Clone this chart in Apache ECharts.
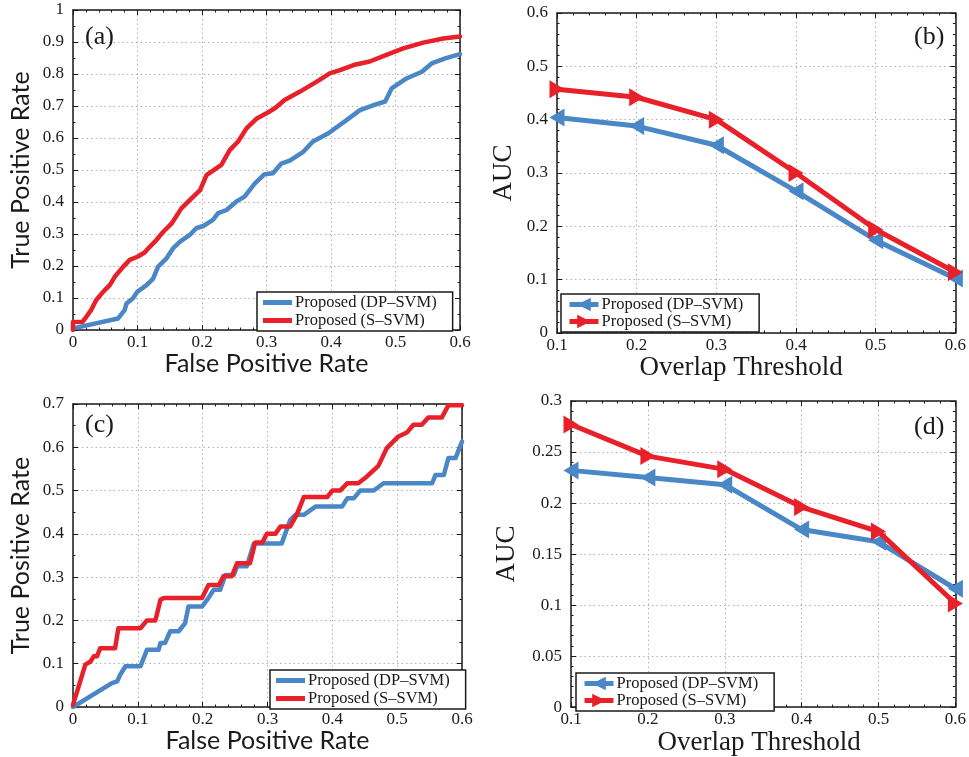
<!DOCTYPE html>
<html>
<head>
<meta charset="utf-8">
<script src="https://cdn.jsdelivr.net/npm/echarts@6/dist/echarts.min.js"></script>
<style>
  html, body { margin: 0; padding: 0; background: #fff; }
  #chart { width: 969px; height: 757px; }
</style>
</head>
<body>
<div id="chart"></div>
<script>
// ---- Data ----------------------------------------------------------------
const seriesLabels = ['Proposed (DP–SVM)', 'Proposed (S–SVM)'];

// (a) ROC curves: [false positive rate, true positive rate]
const rocA_dp = [
  [0, 0.005], [0.07, 0.036], [0.08, 0.062], [0.083, 0.083], [0.093, 0.099],
  [0.10, 0.12], [0.114, 0.14], [0.124, 0.16], [0.132, 0.198], [0.145, 0.224],
  [0.155, 0.255], [0.166, 0.276], [0.181, 0.297], [0.191, 0.318], [0.202, 0.325],
  [0.217, 0.344], [0.225, 0.365], [0.238, 0.375], [0.253, 0.401], [0.266, 0.417],
  [0.282, 0.458], [0.297, 0.487], [0.31, 0.49], [0.323, 0.52], [0.336, 0.529],
  [0.357, 0.557], [0.372, 0.589], [0.396, 0.615], [0.424, 0.656], [0.445, 0.687],
  [0.466, 0.703], [0.484, 0.714], [0.494, 0.755], [0.517, 0.786], [0.541, 0.807],
  [0.556, 0.833], [0.577, 0.849], [0.6, 0.862]
];
const rocA_s = [
  [0, 0], [0, 0.025], [0.015, 0.026], [0.021, 0.042], [0.028, 0.062],
  [0.036, 0.094], [0.047, 0.12], [0.057, 0.14], [0.065, 0.167], [0.078, 0.198],
  [0.088, 0.219], [0.10, 0.229], [0.111, 0.242], [0.119, 0.26], [0.127, 0.276],
  [0.14, 0.307], [0.153, 0.333], [0.168, 0.38], [0.181, 0.406], [0.197, 0.437],
  [0.207, 0.484], [0.23, 0.516], [0.243, 0.562], [0.256, 0.589], [0.269, 0.63],
  [0.285, 0.661], [0.3, 0.677], [0.313, 0.693], [0.328, 0.719], [0.352, 0.745],
  [0.378, 0.776], [0.398, 0.802], [0.414, 0.812], [0.435, 0.828], [0.46, 0.839],
  [0.486, 0.86], [0.512, 0.88], [0.543, 0.898], [0.574, 0.911], [0.6, 0.917]
];

// (b) AUC against overlap threshold
const thresholds = [0.1, 0.2, 0.3, 0.4, 0.5, 0.6];
const aucB_dp = [0.404, 0.388, 0.352, 0.266, 0.174, 0.102];
const aucB_s  = [0.457, 0.442, 0.400, 0.300, 0.194, 0.114];

// (c) ROC curves
const rocC_dp = [
  [0, 0], [0.06, 0.055], [0.068, 0.059], [0.073, 0.075], [0.081, 0.094],
  [0.104, 0.094], [0.114, 0.132], [0.132, 0.132], [0.135, 0.148], [0.142, 0.148],
  [0.15, 0.175], [0.163, 0.175], [0.173, 0.194], [0.178, 0.232], [0.199, 0.232],
  [0.209, 0.252], [0.217, 0.271], [0.227, 0.271], [0.235, 0.305], [0.248, 0.305],
  [0.253, 0.325], [0.268, 0.325], [0.279, 0.378], [0.322, 0.378], [0.335, 0.432],
  [0.343, 0.444], [0.356, 0.444], [0.374, 0.463], [0.415, 0.463], [0.423, 0.482],
  [0.433, 0.482], [0.443, 0.5], [0.464, 0.5], [0.479, 0.517], [0.554, 0.517],
  [0.559, 0.536], [0.572, 0.536], [0.579, 0.575], [0.59, 0.575], [0.6, 0.613]
];
const rocC_s = [
  [0, 0.005], [0.019, 0.098], [0.027, 0.105], [0.032, 0.117], [0.037, 0.117],
  [0.042, 0.136], [0.065, 0.136], [0.07, 0.182], [0.104, 0.182], [0.114, 0.2],
  [0.127, 0.2], [0.135, 0.248], [0.14, 0.252], [0.199, 0.252], [0.209, 0.282],
  [0.225, 0.282], [0.232, 0.302], [0.245, 0.302], [0.253, 0.332], [0.273, 0.332],
  [0.281, 0.38], [0.292, 0.38], [0.299, 0.4], [0.312, 0.4], [0.32, 0.417],
  [0.335, 0.417], [0.345, 0.444], [0.356, 0.485], [0.392, 0.485], [0.4, 0.5],
  [0.412, 0.5], [0.423, 0.517], [0.44, 0.517], [0.453, 0.532], [0.471, 0.557],
  [0.484, 0.598], [0.502, 0.625], [0.515, 0.634], [0.525, 0.652], [0.538, 0.652],
  [0.548, 0.669], [0.569, 0.669], [0.579, 0.697], [0.6, 0.697]
];

// (d) AUC against overlap threshold
const aucD_dp = [0.232, 0.225, 0.218, 0.174, 0.162, 0.116];
const aucD_s  = [0.277, 0.246, 0.233, 0.196, 0.172, 0.1015];

// Tick values for each axis
const rocXTicks  = [0, 0.1, 0.2, 0.3, 0.4, 0.5, 0.6];
const rocAYTicks = [0, 0.1, 0.2, 0.3, 0.4, 0.5, 0.6, 0.7, 0.8, 0.9, 1];
const rocCYTicks = [0, 0.1, 0.2, 0.3, 0.4, 0.5, 0.6, 0.7];
const thrXTicks  = [0.1, 0.2, 0.3, 0.4, 0.5, 0.6];
const aucBYTicks = [0, 0.1, 0.2, 0.3, 0.4, 0.5, 0.6];
const aucDYTicks = [0, 0.05, 0.1, 0.15, 0.2, 0.25, 0.3];

// ---- Styling -------------------------------------------------------------
const BLUE = '#4A87C7';
const RED = '#E8202A';
const INK = '#1a1a1a';
const SERIF = '"Liberation Serif", "DejaVu Serif", serif';
const SANS = 'Lato, "Open Sans", sans-serif';

const leftTri = 'path://M0,5L10,0L10,10Z';
const rightTri = 'path://M10,5L0,0L0,10Z';

function range(ticks) {
  return { min: ticks[0], max: ticks[ticks.length - 1],
           interval: +(ticks[1] - ticks[0]).toFixed(4) };
}

// One visible axis (with labels and grid lines) and one mirror axis that
// only carries the frame line and inward ticks.
function axisPair(kind, gridIndex, ticks, minorSplit, name, nameOpts) {
  const r = range(ticks);
  const isX = kind === 'x';
  const common = {
    type: 'value', gridIndex: gridIndex,
    min: r.min, max: r.max, interval: r.interval,
    axisLine: { show: true, onZero: false, lineStyle: { color: INK, width: 1.5 } },
    axisTick: { show: true, inside: true, length: 5, lineStyle: { color: INK, width: 1 } },
    minorTick: { show: true, splitNumber: minorSplit, length: 2.5, lineStyle: { color: INK, width: 1 } },
    minorSplitLine: { show: false }
  };
  const main = Object.assign({}, common, {
    position: isX ? 'bottom' : 'left',
    name: name,
    nameLocation: 'middle',
    nameGap: nameOpts.gap,
    nameTextStyle: { fontFamily: nameOpts.font, fontSize: nameOpts.size, color: INK,
                     padding: nameOpts.pad || 0 },
    axisLabel: {
      show: true, margin: isX ? 4 : 9,
      fontFamily: SERIF, fontSize: 17, color: INK,
      formatter: function (v) { return String(+v.toFixed(3)); }
    },
    splitLine: { show: true, lineStyle: { type: [1.5, 3], color: '#b0b0b0', width: 1 } }
  });
  const mirror = Object.assign({}, common, {
    position: isX ? 'top' : 'right',
    axisLabel: { show: false },
    splitLine: { show: false }
  });
  return [main, mirror];
}

const grids = [
  { left: 73,  top: 10,  width: 387, height: 320 },  // (a)
  { left: 557, top: 13,  width: 402, height: 320 },  // (b)
  { left: 73,  top: 404, width: 389, height: 303 },  // (c)
  { left: 571, top: 401, width: 387, height: 309 }   // (d)
];

const rocName = { font: SANS, size: 25 };
const thrName = { font: SERIF, size: 27 };

const xAxes = [].concat(
  axisPair('x', 0, rocXTicks, 5, 'False Positive Rate', Object.assign({ gap: 14 }, rocName)),
  axisPair('x', 1, thrXTicks, 5, 'Overlap Threshold', Object.assign({ gap: 13, pad: [0, 30, 0, 0] }, thrName)),
  axisPair('x', 2, rocXTicks, 5, 'False Positive Rate', Object.assign({ gap: 14 }, rocName)),
  axisPair('x', 3, thrXTicks, 5, 'Overlap Threshold', Object.assign({ gap: 13, pad: [0, 8, 0, 0] }, thrName))
);
const yAxes = [].concat(
  axisPair('y', 0, rocAYTicks, 2, 'True Positive Rate', Object.assign({ gap: 40 }, rocName)),
  axisPair('y', 1, aucBYTicks, 5, 'AUC', Object.assign({ gap: 40 }, thrName)),
  axisPair('y', 2, rocCYTicks, 2, 'True Positive Rate', Object.assign({ gap: 40 }, rocName)),
  axisPair('y', 3, aucDYTicks, 5, 'AUC', Object.assign({ gap: 51 }, thrName))
);

function rocSeries(panel, idx, data, color) {
  return {
    name: seriesLabels[idx] + '#' + panel,
    type: 'line', xAxisIndex: panel * 2, yAxisIndex: panel * 2,
    data: data, symbol: 'none', showSymbol: false, animation: false,
    color: color,
    lineStyle: { color: color, width: 4.5, join: 'round', cap: 'round' },
    z: 2 + idx
  };
}
function aucSeries(panel, idx, values, color, sym) {
  return {
    name: seriesLabels[idx] + '#' + panel,
    type: 'line', xAxisIndex: panel * 2, yAxisIndex: panel * 2,
    data: thresholds.map(function (t, i) { return [t, values[i]]; }),
    symbol: sym, symbolSize: [15, 18], showSymbol: true, animation: false,
    clip: false, color: color,
    itemStyle: { color: color },
    lineStyle: { color: color, width: 5, join: 'round' },
    z: 2 + idx
  };
}

const series = [
  rocSeries(0, 0, rocA_dp, BLUE),
  rocSeries(0, 1, rocA_s, RED),
  aucSeries(1, 0, aucB_dp, BLUE, leftTri),
  aucSeries(1, 1, aucB_s, RED, rightTri),
  rocSeries(2, 0, rocC_dp, BLUE),
  rocSeries(2, 1, rocC_s, RED),
  aucSeries(3, 0, aucD_dp, BLUE, leftTri),
  aucSeries(3, 1, aucD_s, RED, rightTri)
];

function legendFor(panel, left, top, lineIcon) {
  const names = seriesLabels.map(function (l) { return l + '#' + panel; });
  return {
    orient: 'vertical', left: left, top: top,
    data: names.map(function (n) { return lineIcon ? { name: n, icon: 'rect' } : { name: n }; }),
    itemWidth: 29, itemHeight: lineIcon ? 5 : 17, itemGap: lineIcon ? 1 : 0,
    padding: [2, 16, 2, 6],
    backgroundColor: '#fff', borderColor: INK, borderWidth: 1.5, borderRadius: 0,
    selectedMode: false,
    lineStyle: { width: 5 },
    textStyle: { fontFamily: SERIF, fontSize: 16.5, color: INK, padding: [0, 0, 0, -2] },
    formatter: function (n) { return n.split('#')[0]; }
  };
}

const legends = [
  legendFor(0, 257, 292, true),
  legendFor(1, 561, 294, false),
  legendFor(2, 270, 670, true),
  legendFor(3, 576, 673, false)
];

// Panel tags
const tags = [['(a)', 85, 24], ['(b)', 914, 24], ['(c)', 85, 412], ['(d)', 914, 414]];
const graphic = tags.map(function (t) {
  return { type: 'text', left: t[1], top: t[2], z: 10,
           style: { text: t[0], font: '26px ' + SERIF, fill: INK } };
});

const chart = echarts.init(document.getElementById('chart'), null, { renderer: 'canvas' });
chart.setOption({
  animation: false,
  backgroundColor: '#fff',
  grid: grids,
  xAxis: xAxes,
  yAxis: yAxes,
  legend: legends,
  series: series,
  graphic: graphic
});
</script>
</body>
</html>
